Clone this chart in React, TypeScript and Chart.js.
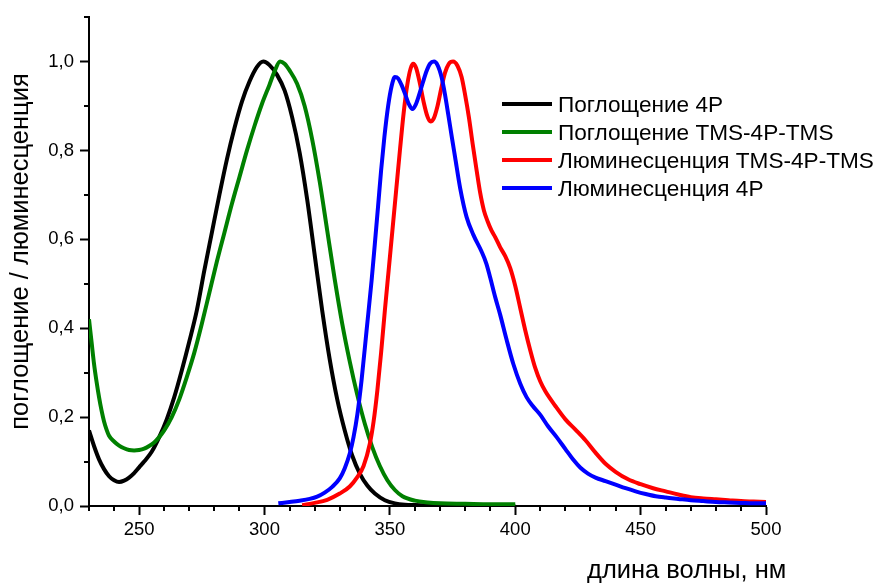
import React, { useEffect, useRef } from 'react';
import { Chart, registerables } from 'chart.js';

Chart.register(...registerables);

const FONT = "'Liberation Sans', Arial, sans-serif";

// ---- Data (wavelength, nm / normalized intensity) ----
const ABS_4P_X = [230, 232, 234, 236, 238, 240, 242, 244, 246, 248, 250, 252, 255, 258, 261, 264, 267, 270, 273, 276, 279, 282, 285, 288, 291, 294, 297, 299.5, 302, 305, 308, 311, 314, 317, 320, 323, 326, 329, 332, 335, 338, 341, 344, 348, 352, 356, 360, 370, 380, 390, 400];
const ABS_4P_Y = [0.170, 0.135, 0.105, 0.083, 0.067, 0.058, 0.054, 0.057, 0.064, 0.074, 0.087, 0.100, 0.122, 0.155, 0.195, 0.245, 0.305, 0.370, 0.440, 0.530, 0.615, 0.700, 0.780, 0.850, 0.910, 0.955, 0.988, 1.0, 0.992, 0.970, 0.935, 0.875, 0.795, 0.690, 0.565, 0.440, 0.330, 0.240, 0.170, 0.113, 0.073, 0.046, 0.028, 0.013, 0.006, 0.003, 0.002, 0.001, 0.001, 0.0005, 0.0];

const ABS_TMS_X = [230, 231, 232, 233, 234, 235, 236, 237, 238, 240, 242, 244, 246, 248, 250, 252, 254, 256, 258, 260, 263, 266, 269, 272, 275, 278, 281, 284, 287, 290, 293, 296, 299, 302, 304, 306.2, 308, 310, 313, 316, 319, 322, 325, 328, 331, 334, 337, 340, 343, 346, 349, 352, 355, 360, 365, 370, 380, 390, 400];
const ABS_TMS_Y = [0.420, 0.370, 0.320, 0.280, 0.245, 0.215, 0.190, 0.172, 0.158, 0.145, 0.136, 0.130, 0.126, 0.125, 0.126, 0.129, 0.135, 0.143, 0.155, 0.170, 0.200, 0.240, 0.290, 0.345, 0.410, 0.480, 0.550, 0.615, 0.680, 0.740, 0.800, 0.855, 0.905, 0.948, 0.978, 1.0, 0.995, 0.980, 0.950, 0.900, 0.825, 0.730, 0.620, 0.510, 0.410, 0.325, 0.250, 0.185, 0.132, 0.090, 0.058, 0.036, 0.022, 0.012, 0.008, 0.006, 0.005, 0.004, 0.004];

const LUM_TMS_X = [315, 320, 325, 330, 334, 337, 339.5, 342, 343.5, 345, 346.5, 348, 349.5, 351, 352.5, 354, 355.5, 357, 358.3, 359.3, 360.5, 362, 363.5, 365, 366.2, 367.5, 369, 370.5, 372, 373.5, 375.2, 377, 378.6, 380, 381.5, 383, 384.6, 386, 387.5, 389, 390.5, 392, 394, 396, 398, 400, 402, 404, 406, 408, 410, 412, 416, 420, 424, 428, 432, 436, 440, 445, 450, 455, 460, 465, 470, 475, 480, 485, 490, 495, 500];
const LUM_TMS_Y = [0.002, 0.007, 0.014, 0.028, 0.044, 0.065, 0.090, 0.140, 0.190, 0.260, 0.345, 0.440, 0.530, 0.620, 0.710, 0.800, 0.885, 0.950, 0.985, 0.995, 0.985, 0.950, 0.908, 0.876, 0.865, 0.872, 0.900, 0.940, 0.975, 0.995, 1.0, 0.990, 0.965, 0.925, 0.875, 0.815, 0.755, 0.705, 0.665, 0.640, 0.620, 0.605, 0.582, 0.562, 0.535, 0.495, 0.445, 0.395, 0.350, 0.310, 0.280, 0.258, 0.225, 0.195, 0.172, 0.148, 0.120, 0.095, 0.077, 0.060, 0.049, 0.040, 0.033, 0.026, 0.020, 0.017, 0.015, 0.013, 0.011, 0.010, 0.009];

const LUM_4P_X = [305.5, 310, 314, 318, 321, 324, 327, 330, 332, 334, 335.5, 337, 338.7, 340.7, 342.7, 344, 345.3, 346.5, 347.8, 349.3, 350.7, 352, 353.3, 354.6, 356, 357.5, 359, 360.3, 361.5, 363, 364.6, 366, 367.6, 369, 370.6, 372, 373.3, 374.7, 376, 378, 380.6, 383.3, 386.6, 388.5, 390, 392, 394, 396.5, 399.2, 402, 404.5, 407, 410, 413, 416.5, 420, 423, 426, 429, 432, 436, 440, 444, 448, 452, 456, 460, 465, 470, 475, 480, 485, 490, 495, 500];
const LUM_4P_Y = [0.006, 0.009, 0.012, 0.016, 0.021, 0.030, 0.043, 0.062, 0.085, 0.118, 0.155, 0.205, 0.283, 0.395, 0.507, 0.590, 0.675, 0.755, 0.830, 0.900, 0.945, 0.965, 0.962, 0.948, 0.928, 0.905, 0.893, 0.903, 0.922, 0.950, 0.978, 0.995, 1.0, 0.992, 0.965, 0.925, 0.880, 0.830, 0.785, 0.716, 0.650, 0.610, 0.572, 0.545, 0.514, 0.470, 0.430, 0.375, 0.320, 0.275, 0.245, 0.225, 0.205, 0.180, 0.155, 0.128, 0.105, 0.086, 0.073, 0.064, 0.056, 0.048, 0.040, 0.033, 0.027, 0.022, 0.019, 0.016, 0.013, 0.011, 0.009, 0.008, 0.007, 0.006, 0.006];

const SERIES_LABELS = ['Поглощение 4P', 'Поглощение TMS-4P-TMS', 'Люминесценция TMS-4P-TMS', 'Люминесценция 4P'];
const SERIES_COLORS = ['#000000', '#008000', '#ff0000', '#0000ff'];

const X_MAJOR_TICKS = [250, 300, 350, 400, 450, 500];
const X_MINOR_TICKS = [230, 240, 260, 270, 280, 290, 310, 320, 330, 340, 360, 370, 380, 390, 410, 420, 430, 440, 460, 470, 480, 490];
const Y_MAJOR_TICKS = [0, 0.2, 0.4, 0.6, 0.8, 1.0];
const Y_MINOR_TICKS = [0.1, 0.3, 0.5, 0.7, 0.9, 1.1];

const X_TITLE = 'длина волны, нм';
const Y_TITLE = 'поглощение / люминесценция';

const zip = (xs: number[], ys: number[]) => xs.map((x, i) => ({ x, y: ys[i] }));

const decorPlugin = {
  id: 'decor',
  afterDraw(chart: any) {
    const ctx = chart.ctx as CanvasRenderingContext2D;
    const xs = chart.scales.x;
    const ys = chart.scales.y;
    const area = chart.chartArea;
    ctx.save();
    // minor ticks
    ctx.strokeStyle = '#000';
    ctx.lineWidth = 2;
    ctx.beginPath();
    X_MINOR_TICKS.forEach((v) => {
      const px = Math.round(xs.getPixelForValue(v));
      ctx.moveTo(px, area.bottom);
      ctx.lineTo(px, area.bottom + 5);
    });
    Y_MINOR_TICKS.forEach((v) => {
      const py = Math.round(ys.getPixelForValue(v));
      ctx.moveTo(area.left, py);
      ctx.lineTo(area.left - 5, py);
    });
    ctx.stroke();

    // axis titles
    ctx.fillStyle = '#000';
    ctx.font = `25.5px ${FONT}`;
    ctx.textBaseline = 'alphabetic';
    ctx.textAlign = 'left';
    ctx.fillText(X_TITLE, 587, 578);

    ctx.save();
    ctx.translate(28, 251.5);
    ctx.rotate(-Math.PI / 2);
    ctx.textAlign = 'center';
    ctx.fillText(Y_TITLE, 0, 0);
    ctx.restore();

    // legend
    const rows = [104, 132, 160, 188];
    SERIES_LABELS.forEach((label, i) => {
      ctx.strokeStyle = SERIES_COLORS[i];
      ctx.lineWidth = 4;
      ctx.beginPath();
      ctx.moveTo(502, rows[i]);
      ctx.lineTo(552, rows[i]);
      ctx.stroke();
      ctx.fillStyle = '#000';
      ctx.font = `22.6px ${FONT}`;
      ctx.textAlign = 'left';
      ctx.textBaseline = 'alphabetic';
      ctx.fillText(label, 558, rows[i] + 8);
    });
    ctx.restore();
  },
};

export default function App() {
  const ref = useRef<HTMLCanvasElement>(null);

  useEffect(() => {
    if (!ref.current) return;
    const seriesX = [ABS_4P_X, ABS_TMS_X, LUM_TMS_X, LUM_4P_X];
    const seriesY = [ABS_4P_Y, ABS_TMS_Y, LUM_TMS_Y, LUM_4P_Y];
    const chart = new Chart(ref.current, {
      type: 'line',
      data: {
        datasets: SERIES_LABELS.map((label, i) => ({
          label,
          data: zip(seriesX[i], seriesY[i]),
          borderColor: SERIES_COLORS[i],
          backgroundColor: SERIES_COLORS[i],
          borderWidth: 4,
          pointRadius: 0,
          fill: false,
          cubicInterpolationMode: 'monotone' as const,
          order: 3 - i,
        })),
      },
      options: {
        responsive: false,
        animation: false,
        layout: { padding: { top: 15, right: 109, bottom: 0, left: 0 } },
        plugins: {
          legend: { display: false },
          tooltip: { enabled: false },
        },
        scales: {
          x: {
            type: 'linear',
            min: 230,
            max: 500,
            afterBuildTicks: (s: any) => {
              s.ticks = X_MAJOR_TICKS.map((v) => ({ value: v }));
            },
            afterFit: (s: any) => {
              s.height = 77;
            },
            grid: { drawOnChartArea: false, drawTicks: true, tickLength: 9, tickWidth: 2, tickColor: '#000' },
            border: { display: true, color: '#000', width: 2 },
            ticks: {
              color: '#000',
              font: { family: FONT, size: 18.5 },
              padding: 4,
              maxRotation: 0,
              autoSkip: false,
              callback: (v: any) => String(v),
            },
            title: { display: false },
          },
          y: {
            type: 'linear',
            min: 0,
            max: 1.1,
            afterBuildTicks: (s: any) => {
              s.ticks = Y_MAJOR_TICKS.map((v) => ({ value: v }));
            },
            afterFit: (s: any) => {
              s.width = 89;
            },
            grid: { drawOnChartArea: false, drawTicks: true, tickLength: 9, tickWidth: 2, tickColor: '#000' },
            border: { display: true, color: '#000', width: 2 },
            ticks: {
              color: '#000',
              font: { family: FONT, size: 18.5 },
              padding: 6,
              autoSkip: false,
              callback: (v: any) => Number(v).toFixed(1).replace('.', ','),
            },
            title: { display: false },
          },
        },
      },
      plugins: [decorPlugin],
    });
    return () => chart.destroy();
  }, []);

  return (
    <div style={{ position: 'fixed', left: 0, top: 0, width: 875, height: 583, background: '#fff' }}>
      <canvas ref={ref} width={875} height={583} style={{ display: 'block', width: 875, height: 583 }} />
    </div>
  );
}
